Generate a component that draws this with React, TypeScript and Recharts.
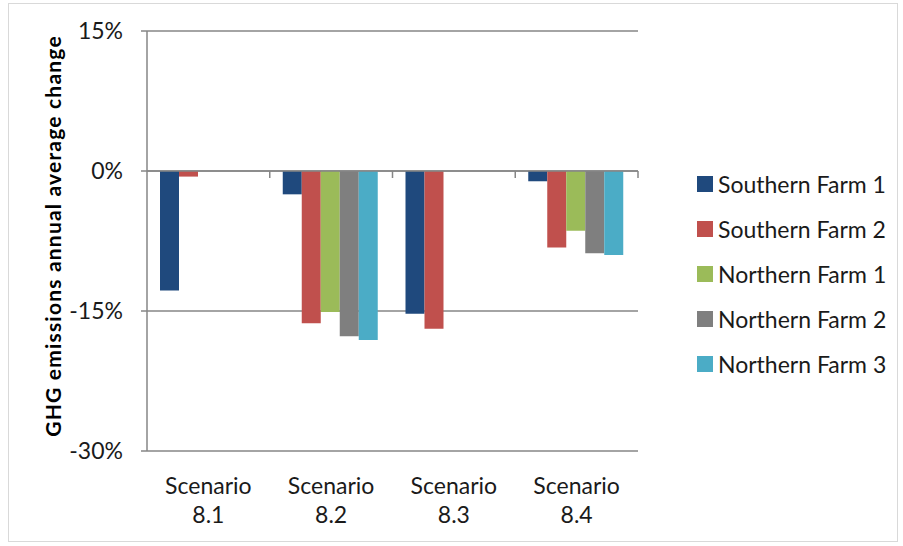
import { BarChart, Bar, XAxis, YAxis, CartesianGrid, ReferenceLine } from 'recharts';

const scenarios = ['8.1', '8.2', '8.3', '8.4'];
const farms = ['Southern Farm 1', 'Southern Farm 2', 'Northern Farm 1', 'Northern Farm 2', 'Northern Farm 3'];
const colors = ['#1F497D', '#C0504D', '#9BBB59', '#7F7F7F', '#4BACC6'];

// annual average change in GHG emissions, % (null = not modelled)
const southern1 = [-12.8, -2.5, -15.3, -1.1];
const southern2 = [-0.6, -16.3, -16.9, -8.2];
const northern1 = [null, -15.1, null, -6.4];
const northern2 = [null, -17.7, null, -8.8];
const northern3 = [null, -18.1, null, -9.0];

const yTicks = [-30, -15, 0, 15];

const seriesValues = [southern1, southern2, northern1, northern2, northern3];
const data = scenarios.map((s, i) => {
    const row: Record<string, string | number | null> = { name: s };
    farms.forEach((f, j) => {
        row[f] = seriesValues[j][i];
    });
    return row;
});

const FONT = 'Lato, "Open Sans", sans-serif';
const AXIS_GREY = '#868686';
const TEXT = '#1a1a1a';

function ScenarioTick(props: any) {
    const { x, y, payload } = props;
    return (
        <text x={x} y={y} textAnchor="middle" fill={TEXT} fontFamily={FONT} fontSize={23}>
            <tspan x={x} dy={43}>Scenario</tspan>
            <tspan x={x} dy={29}>{payload.value}</tspan>
        </text>
    );
}

// zero line with small tick marks between the scenario groups
function ZeroAxis(props: any) {
    const { x1, y1, x2 } = props;
    const n = scenarios.length;
    const step = (x2 - x1) / n;
    return (
        <g>
            <line x1={x1} y1={y1} x2={x2} y2={y1} stroke={AXIS_GREY} strokeWidth={1.5} />
            {scenarios.map((_, i) => (
                <line
                    key={i}
                    x1={x1 + step * (i + 1)}
                    x2={x1 + step * (i + 1)}
                    y1={y1}
                    y2={y1 + 7}
                    stroke={AXIS_GREY}
                    strokeWidth={1.5}
                />
            ))}
        </g>
    );
}

function FarmLegend() {
    return (
        <div
            style={{
                position: 'absolute',
                left: 697,
                top: 161,
                fontFamily: FONT,
                fontSize: 23,
                color: TEXT,
            }}
        >
            {farms.map((f, i) => (
                <div key={f} style={{ display: 'flex', alignItems: 'center', height: 45 }}>
                    <span style={{ width: 16, height: 16, background: colors[i], marginRight: 5 }} />
                    <span>{f}</span>
                </div>
            ))}
        </div>
    );
}

export default function App() {
    return (
        <div style={{ position: 'absolute', left: 0, top: 0, width: 903, height: 546, background: '#fff' }}>
            <div
                style={{
                    position: 'absolute',
                    left: 8,
                    top: 3,
                    width: 888,
                    height: 537,
                    border: '1px solid #d9d9d9',
                }}
            />
            <BarChart
                width={903}
                height={546}
                data={data}
                margin={{ top: 31, right: 265, bottom: 0, left: 0 }}
                barCategoryGap={13}
                barGap={0}
                style={{ position: 'absolute', left: 0, top: 0 }}
            >
                <CartesianGrid vertical={false} stroke={AXIS_GREY} strokeWidth={1.5} />
                <XAxis
                    dataKey="name"
                    height={95}
                    axisLine={false}
                    tickLine={false}
                    tickSize={0}
                    tickMargin={0}
                    interval={0}
                    tick={<ScenarioTick />}
                />
                <YAxis
                    width={147}
                    domain={[-30, 15]}
                    ticks={yTicks}
                    interval={0}
                    tickFormatter={(v: number) => `${v}%`}
                    axisLine={{ stroke: AXIS_GREY, strokeWidth: 1.5 }}
                    tickLine={{ stroke: AXIS_GREY, strokeWidth: 1.5 }}
                    tickSize={6}
                    tickMargin={18}
                    tick={{ fill: TEXT, fontFamily: FONT, fontSize: 23 }}
                    label={{
                        content: (p: any) => {
                            const vb = p.viewBox;
                            const cx = 52;
                            const cy = vb.y + vb.height / 2 - 5;
                            return (
                                <text
                                    x={cx}
                                    y={cy}
                                    transform={`rotate(-90 ${cx} ${cy})`}
                                    textAnchor="middle"
                                    dominantBaseline="central"
                                    fontFamily={FONT}
                                    fontWeight="bold"
                                    fontSize={21}
                                    letterSpacing={1.2}
                                    fill="#000"
                                >
                                    GHG emissions annual average change
                                </text>
                            );
                        },
                    }}
                />
                <ReferenceLine y={0} shape={<ZeroAxis />} />
                {farms.map((f, i) => (
                    <Bar key={f} dataKey={f} fill={colors[i]} isAnimationActive={false} />
                ))}
            </BarChart>
            <FarmLegend />
        </div>
    );
}
